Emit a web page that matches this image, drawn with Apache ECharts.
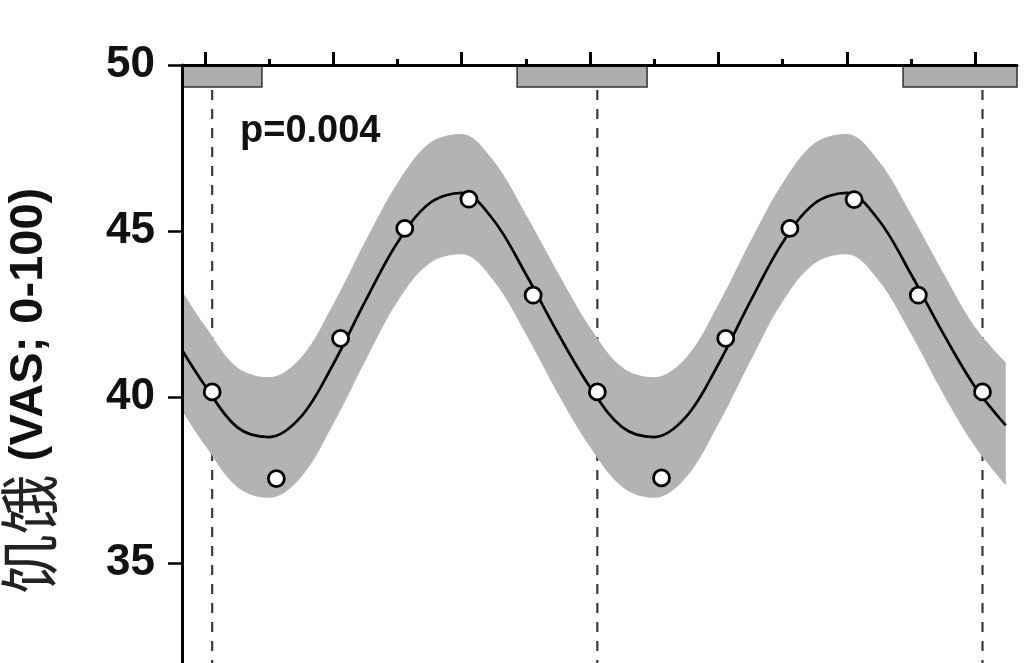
<!DOCTYPE html>
<html>
<head>
<meta charset="utf-8">
<script src="https://cdn.jsdelivr.net/npm/echarts@6/dist/echarts.min.js"></script>
<style>
html,body{margin:0;padding:0;background:#fff;}
#chart{width:1024px;height:663px;}
</style>
</head>
<body>
<div id="chart"></div>
<script>
// Fitted curve and confidence band (hours from first major tick)
const curveHours = [-1.43, 0, 2, 4, 6, 8, 10, 12, 14, 16, 18, 20, 22, 24, 26, 28, 30, 32, 34, 36, 38, 40, 42, 44, 46, 48, 49.9];
const curveValues = [41.42, 40.35, 39.1, 38.8, 39.42, 41.0, 42.9, 44.66, 45.84, 46.15, 45.32, 43.7, 41.92, 40.3, 39.1, 38.8, 39.42, 41.0, 42.9, 44.66, 45.84, 46.15, 45.32, 43.7, 41.92, 40.3, 39.15];
const bandUpper = [43.2, 42.15, 40.9, 40.6, 41.2, 42.8, 44.7, 46.45, 47.65, 47.92, 47.1, 45.5, 43.75, 42.1, 40.9, 40.6, 41.2, 42.8, 44.7, 46.45, 47.65, 47.92, 47.1, 45.5, 43.75, 42.1, 41.05];
const bandLower = [39.6, 38.55, 37.3, 36.97, 37.6, 39.2, 41.1, 42.88, 44.03, 44.3, 43.5, 41.9, 40.1, 38.5, 37.3, 36.97, 37.6, 39.2, 41.1, 42.88, 44.03, 44.3, 43.5, 41.9, 40.1, 38.5, 37.35];

// Observed points
const pointHours = [0.45, 4.45, 8.45, 12.45, 16.45, 20.45, 24.45, 28.45, 32.45, 36.45, 40.45, 44.45, 48.45];
const pointValues = [40.16, 37.55, 41.77, 45.08, 45.96, 43.07, 40.16, 37.57, 41.77, 45.08, 45.95, 43.07, 40.16];

// Sleep periods (grey bars) and wake markers (dashed lines)
const sleepStart = [-4.5, 19.45, 43.5];
const sleepEnd = [3.55, 27.55, 51.55];
const wakeHours = [0.45, 24.45, 48.45];

// Axis ticks
const majorTicks = [0, 8, 16, 24, 32, 40, 48];
const minorTicks = [4, 12, 20, 28, 36, 44];
const xMin = -1.43, xMax = 50.6;
const yMin = 30, yMax = 50, yStep = 5;

const yTitle = '{c|饥饿}{b| (VAS; 0-100)}';
const pText = 'p=0.004';

const chart = echarts.init(document.getElementById('chart'), null, {renderer: 'canvas'});

// value first, hour second (encode maps them), so stacking happens on the value dimension
const lowerData = curveHours.map((h, i) => [bandLower[i], h]);
const diffData = curveHours.map((h, i) => [+(bandUpper[i] - bandLower[i]).toFixed(3), h]);
const curveData = curveHours.map((h, i) => [h, curveValues[i]]);
const pointData = pointHours.map((h, i) => [h, pointValues[i]]);
const sleepData = sleepStart.map((s, i) => [s, sleepEnd[i]]);
const wakeData = wakeHours.map(h => [h]);

const SMOOTH = 0.35;

const baseX = {
  type: 'value', position: 'top', min: xMin, max: xMax,
  axisLabel: {show: false}, splitLine: {show: false}
};

chart.setOption({
  animation: false,
  backgroundColor: '#fff',
  grid: {left: 182, right: 7, top: 65, bottom: -66.4, containLabel: false, outerBoundsMode: 'none'},
  xAxis: [
    Object.assign({}, baseX, {
      z: 10,
      axisLine: {show: true, onZero: false, lineStyle: {color: '#000', width: 3}},
      axisTick: {show: true, inside: false, length: 13, lineStyle: {color: '#000', width: 3}, customValues: majorTicks}
    }),
    Object.assign({}, baseX, {
      z: 10,
      axisLine: {show: false, onZero: false},
      axisTick: {show: true, inside: false, length: 6, lineStyle: {color: '#000', width: 3}, customValues: minorTicks}
    })
  ],
  yAxis: {
    type: 'value', min: yMin, max: yMax, interval: yStep, z: 10,
    axisLine: {show: true, onZero: false, lineStyle: {color: '#000', width: 3}},
    axisTick: {show: true, inside: false, length: 14, lineStyle: {color: '#000', width: 2.5}},
    axisLabel: {fontFamily: 'Liberation Sans', fontWeight: 'bold', fontSize: 44, color: '#111', margin: 27},
    splitLine: {show: false}
  },
  graphic: [
    {
      type: 'text', x: 29, y: 391, rotation: Math.PI / 2, z: 10,
      style: {
        text: yTitle, align: 'center', verticalAlign: 'middle', fill: '#111',
        rich: {
          c: {fontFamily: 'Noto Sans CJK SC', fontWeight: 'normal', fontSize: 60, fill: '#222'},
          b: {fontFamily: 'Liberation Sans', fontWeight: 'bold', fontSize: 47, fill: '#111'}
        }
      }
    },
    {
      type: 'text', x: 240, y: 132, z: 10,
      style: {text: pText, fontFamily: 'Liberation Sans', fontWeight: 'bold', fontSize: 38, fill: '#111', align: 'left', verticalAlign: 'middle'}
    }
  ],
  series: [
    {
      type: 'custom', name: 'wake', z: 1,
      data: wakeData,
      renderItem: function (params, api) {
        const cs = params.coordSys;
        const p = api.coord([api.value(0), 40]);
        return {
          type: 'line',
          shape: {x1: p[0], y1: cs.y + 25, x2: p[0], y2: cs.y + cs.height},
          style: {stroke: '#3a3a3a', lineWidth: 2.2, lineDash: [10, 9]}
        };
      }
    },
    {
      type: 'line', name: 'lower', stack: 'band', smooth: SMOOTH, z: 2,
      encode: {x: 1, y: 0},
      showSymbol: false, symbol: 'none',
      lineStyle: {opacity: 0, width: 0},
      data: lowerData
    },
    {
      type: 'line', name: 'band', stack: 'band', smooth: SMOOTH, z: 2,
      encode: {x: 1, y: 0},
      showSymbol: false, symbol: 'none',
      lineStyle: {opacity: 0, width: 0},
      areaStyle: {color: '#b3b3b3', opacity: 1},
      data: diffData
    },
    {
      type: 'line', name: 'fit', smooth: SMOOTH, z: 3,
      showSymbol: false, symbol: 'none',
      lineStyle: {color: '#000', width: 2.7},
      data: curveData
    },
    {
      type: 'scatter', name: 'obs', z: 4,
      symbol: 'circle', symbolSize: 16,
      itemStyle: {color: '#fff', borderColor: '#000', borderWidth: 2.8, opacity: 1},
      data: pointData
    },
    {
      type: 'custom', name: 'sleep', z: 5,
      data: sleepData,
      renderItem: function (params, api) {
        const cs = params.coordSys;
        const a = api.coord([api.value(0), yMax]);
        const b = api.coord([api.value(1), yMax]);
        const x0 = Math.max(a[0], cs.x);
        const x1 = Math.min(b[0], cs.x + cs.width);
        return {
          type: 'rect',
          shape: {x: x0, y: cs.y + 1, width: x1 - x0, height: 21},
          style: {fill: '#adadad', stroke: '#333', lineWidth: 1.5}
        };
      }
    }
  ]
});
</script>
</body>
</html>
